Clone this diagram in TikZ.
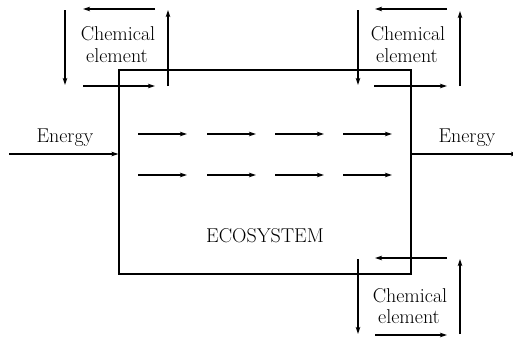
\documentclass[tikz,border=0pt]{standalone}
\usepackage{fontspec}
\usetikzlibrary{arrows.meta}
\begin{document}
\begin{tikzpicture}[x=1pt,y=-1pt,
  arr/.style={line width=1.1pt,-{Stealth[length=7pt,width=4.5pt,inset=1.5pt]}},
  lbl/.style={font=\fontsize{20}{22}\selectfont,inner sep=0pt,anchor=base},
  box/.style={draw,line width=1.1pt}]
\useasboundingbox (0,0) rectangle (513,340);
% ecosystem box
\node[box,minimum width=292pt,minimum height=204pt,inner sep=0pt] (eco) at (265,172) {};
\node[lbl] (ecot) at (265,242) {ECOSYSTEM};
% energy
\node[lbl] (en1) at (65,142) {Energy};
\node[lbl] (en2) at (467,142) {Energy};
\coordinate (ein) at (9,154);
\coordinate (eout) at (518,154);
\draw[arr] (ein) -- (eco.west |- ein);
\draw[arr] (eco.east |- eout) -- (eout);
% internal arrows
\foreach \y in {134,175}{
  \foreach \x in {138,207,275,343}{
    \draw[arr] (\x,\y) coordinate (s) -- ++(49,0) coordinate (t);
  }
}
% top-left chemical element
\node[lbl] (c1a) at (118,40) {Chemical};
\node[lbl] (c1b) at (117,62) {element};
\draw[arr] (155,9) -- (83,9);
\draw[arr] (65,10) -- (65,85);
\draw[arr] (83,86) -- (155,86);
\draw[arr] (168,86) -- (168,10);
% top-right
\node[lbl] (c2a) at (408,40) {Chemical};
\node[lbl] (c2b) at (407,62) {element};
\draw[arr] (447,9) -- (375,9);
\draw[arr] (358,10) -- (358,85);
\draw[arr] (374,86) -- (447,86);
\draw[arr] (460,86) -- (460,11);
% bottom-right
\node[lbl] (c3a) at (410,302) {Chemical};
\node[lbl] (c3b) at (409,323) {element};
\draw[arr] (447,258) -- (375,258);
\draw[arr] (358,259) -- (358,334);
\draw[arr] (375,335) -- (447,335);
\draw[arr] (460,334) -- (460,259);
\end{tikzpicture}
\end{document}
